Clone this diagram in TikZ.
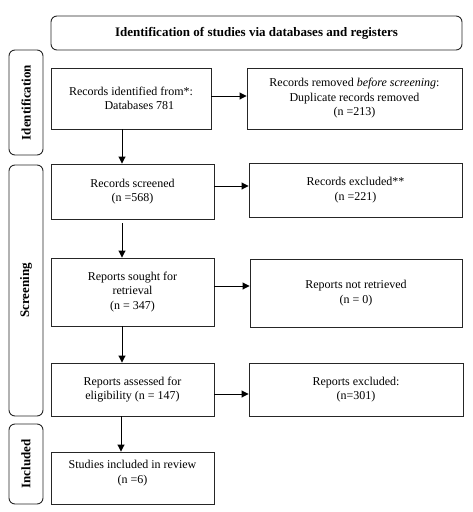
\documentclass[tikz,border=0pt]{standalone}
\usepackage{fontspec}
\setmainfont{Liberation Serif}
\usetikzlibrary{arrows.meta,calc}
\begin{document}
\begin{tikzpicture}[x=1pt,y=-1pt,
  box/.style={draw=black!85,line width=0.9pt,align=center,inner sep=2pt,font=\fontsize{12}{14.5}\selectfont},
  phase/.style={draw=black!85,line width=0.9pt,rounded corners=6pt,rotate=90,font=\fontsize{13}{15}\selectfont\bfseries,inner sep=0pt},
  arr/.style={line width=0.9pt,-{Triangle[length=7pt,width=7pt]}}]
\useasboundingbox (0,0) rectangle (473,512);
\node[draw=black!85,line width=0.9pt,rounded corners=6pt,minimum width=411pt,minimum height=34pt,inner sep=0pt,font=\fontsize{13}{15}\selectfont\bfseries] (top) at (256.5,33) {Identification of studies via databases and registers};
\node[phase,minimum width=105pt,minimum height=34pt] (pid) at (26,102.5) {Identification};
\node[phase,minimum width=251pt,minimum height=34pt] (psc) at (26,290.5) {Screening};
\node[phase,minimum width=80pt,minimum height=34pt] (pin) at (26,464) {Included};
\node[box,minimum width=160pt,minimum height=61pt] (b1) at (131,98.5) {Records identified from*:\\\hspace*{1.4em}Databases 781};
\node[box,minimum width=215pt,minimum height=61pt] (r1) at (354.5,98.5) {Records removed \textit{before screening}:\\Duplicate records removed\\(n =213)};
\node[box,minimum width=163pt,minimum height=55pt] (b2) at (132.5,191.5) {Records screened\\(n =568)};
\node[box,minimum width=213pt,minimum height=54pt] (r2) at (355.5,190) {Records excluded**\\(n =221)};
\node[box,minimum width=163pt,minimum height=68pt] (b3) at (132.5,292) {Reports sought for\\retrieval\\(n = 347)};
\node[box,minimum width=212pt,minimum height=68pt] (r3) at (356,293) {Reports not retrieved\\(n = 0)};
\node[box,minimum width=163pt,minimum height=53pt] (b4) at (132.5,389.5) {Reports assessed for\\eligibility (n = 147)};
\node[box,minimum width=214pt,minimum height=53pt] (r4) at (356,389.5) {Reports excluded:\\(n=301)};
\node[box,minimum width=163pt,minimum height=52pt,text height=24pt,text depth=14pt] (b5) at (132.5,478) {Studies included in review\\(n =6)};
\coordinate (ya) at (0,96);
\coordinate (yb) at (0,186);
\coordinate (yc) at (0,286);
\coordinate (yd) at (0,394);
\coordinate (xa) at (122,0);
\coordinate (xb) at (121,0);
\draw[arr] (b1.east |- ya) -- (r1.west |- ya);
\draw[arr] (b2.east |- yb) -- (r2.west |- yb);
\draw[arr] (b3.east |- yc) -- (r3.west |- yc);
\draw[arr] (b4.east |- yd) -- (r4.west |- yd);
\draw[arr] (b1.south -| xa) -- (b2.north -| xa);
\draw[arr] ($(b2.south -| xa)+(0,4)$) -- (b3.north -| xa);
\draw[arr] (b3.south -| xa) -- (b4.north -| xa);
\draw[arr] (b4.south -| xb) -- (b5.north -| xb);
\end{tikzpicture}
\end{document}
